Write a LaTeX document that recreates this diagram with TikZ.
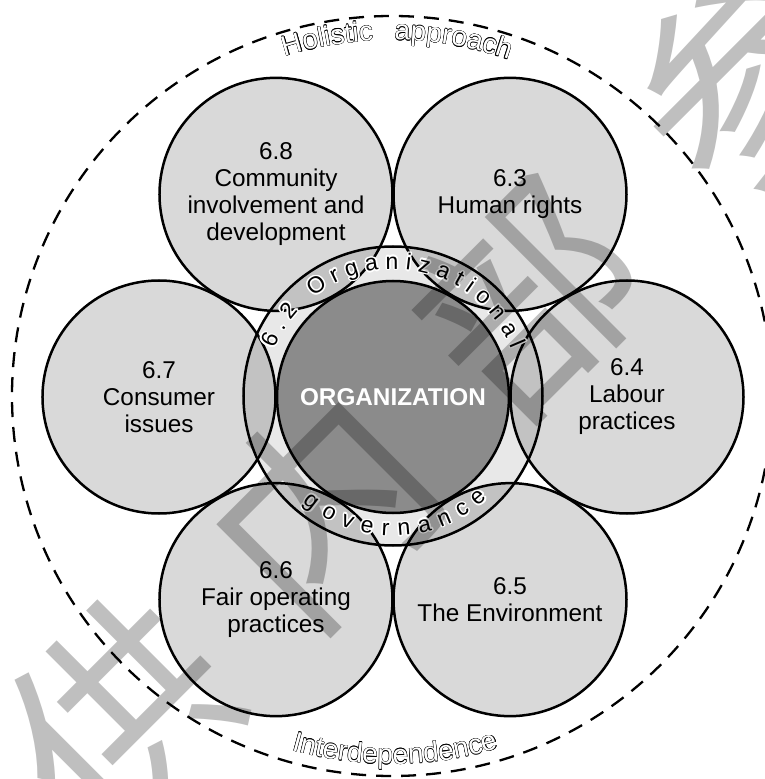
\documentclass[tikz,border=0pt]{standalone}
\usepackage{fontspec}
\setmainfont{Liberation Sans}
\newfontfamily\cjkwm{Noto Sans CJK SC}
\usetikzlibrary{decorations.text}
\definecolor{petalc}{HTML}{D9D9D9}
\definecolor{ringc}{HTML}{E8E8E8}
\definecolor{ovlc}{HTML}{C2C2C2}
\definecolor{corec}{HTML}{8B8B8B}
\newcommand\petalfont{\fontsize{24.3}{27}\selectfont}
\newcommand\corefont{\fontsize{24.3}{27}\selectfont\bfseries}
\newcommand\ringfont{\fontsize{23}{25}\selectfont}
\newcommand\outerfont{\fontsize{28}{30}\selectfont}
% black text with white halo along an arc
\newcommand\halotext[6]{%
  \foreach \hh in {0,30,...,330}{%
    \path[decorate,decoration={text along path, text={|#1|#2}, text color=white, text align={#6}}]
      ([shift={(\hh:1.5pt)}]#3:#5) arc[start angle=#3, end angle=#4, radius=#5];
  }%
  \path[decorate,decoration={text along path, text={|#1|#2}, text color=black, text align={#6}}]
      (#3:#5) arc[start angle=#3, end angle=#4, radius=#5];
}
% hollow (outlined) text along an arc
\newcommand\hollowtext[6]{%
  \foreach \hh in {0,45,...,315}{%
    \path[decorate,decoration={text along path, text={|#1|#2}, text color=black, text align={#6}}]
      ([shift={(\hh:0.4pt)}]#3:#5) arc[start angle=#3, end angle=#4, radius=#5];
  }%
  \path[decorate,decoration={text along path, text={|#1|#2}, text color=white, text align={#6}}]
      (#3:#5) arc[start angle=#3, end angle=#4, radius=#5];
}
\begin{document}
\begin{tikzpicture}[x=1pt,y=1pt,
  petalline/.style={circle, draw=black, line width=2.5pt, minimum size=233pt, inner sep=0pt, align=center, font=\petalfont, text=black},
  ringline/.style={circle, draw=black, line width=2.5pt, minimum size=299pt, inner sep=0pt},
  coreline/.style={circle, draw=black, line width=2.5pt, minimum size=232pt, inner sep=0pt, font=\corefont, text=white},
  outerline/.style={circle, draw=black, line width=2.3pt, dash pattern=on 15pt off 10pt, minimum size=760pt, inner sep=0pt},
  wmark/.style={font=\cjkwm\fontsize{215}{215}\selectfont, text=black, text opacity=0.25, rotate=45, inner sep=0pt}
]
\useasboundingbox (-393,-382) rectangle (372,397);
\begin{scope}
\clip (-393,-382) rectangle (372,397);
\fill[white] (-393,-382) rectangle (372,397);
% fills
\foreach \ang in {0,60,...,300} \fill[petalc] (\ang:234pt) circle[radius=116.5pt];
\fill[ringc] (0,1) circle[radius=149.5pt];
\begin{scope}
  \clip (0,1) circle[radius=149.5pt];
  \foreach \ang in {0,60,...,300} \fill[ovlc] (\ang:234pt) circle[radius=116.5pt];
\end{scope}
\fill[corec] (0,0) circle[radius=116pt];
% outlines and labels
\node[petalline] (p64) at (0:234pt) {6.4\\Labour\\practices};
\node[petalline] (p63) at (60:234pt) {6.3\\Human rights};
\node[petalline] (p68) at (120:234pt) {6.8\\Community\\involvement and\\development};
\node[petalline] (p67) at (180:234pt) {6.7\\Consumer\\issues};
\node[petalline] (p66) at (240:234pt) {6.6\\Fair operating\\practices};
\node[petalline] (p65) at (300:234pt) {6.5\\The Environment};
\node[ringline] (ring) at (0,1) {};
\node[coreline] (core) at (0,0) {ORGANIZATION};
\node[outerline] (outer) at (-1,1) {};
% ring texts
\halotext{\ringfont}{6.2 Organizational}{158}{22}{128pt}{fit to path}
\halotext{\ringfont}{governance}{229.5}{313}{138.5pt}{fit to path}
% outer texts
\begin{scope}[shift={(-1,1)}]
\hollowtext{\outerfont}{Holistic}{107.5}{60}{356pt}{left}
\hollowtext{\outerfont}{approach}{89.6}{40}{356pt}{left}
\hollowtext{\outerfont}{Interdependence}{230}{311}{368pt}{center}
\end{scope}
% watermark
\node[wmark] (wm1) at (-273,-318) {供};
\node[wmark] (wm2) at (-71,-111) {内};
\node[wmark] (wm3) at (134,99) {部};
\node[wmark] (wm4) at (350,318) {参};
\end{scope}
\end{tikzpicture}
\end{document}
